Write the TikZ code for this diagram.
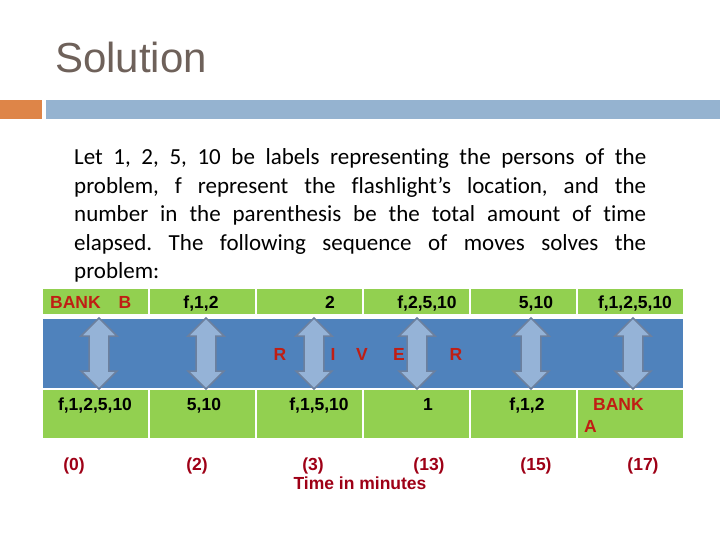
\documentclass[tikz,border=0pt]{standalone}
\usepackage{fontspec}
\setmainfont{Liberation Sans}
\newfontfamily\bodyfont[Ligatures=NoCommon]{Carlito}
\usetikzlibrary{shapes.arrows}
\definecolor{titlegrey}{RGB}{110,97,90}
\definecolor{barorange}{RGB}{222,133,72}
\definecolor{barblue}{RGB}{149,179,208}
\definecolor{riverblue}{RGB}{79,130,188}
\definecolor{cellgreen}{RGB}{146,208,80}
\definecolor{arrowfill}{RGB}{149,179,215}
\definecolor{arrowline}{RGB}{108,128,158}
\definecolor{bankred}{RGB}{192,30,20}
\definecolor{darkred}{RGB}{158,0,22}
\begin{document}
\begin{tikzpicture}[x=1pt, y=-1pt,
topcell/.style={rectangle, fill=cellgreen, minimum width=105pt, minimum height=25pt, inner sep=0pt},
botcell/.style={rectangle, fill=cellgreen, minimum width=105pt, minimum height=48pt, inner sep=0pt},
crossarrow/.style={double arrow, draw=arrowline, fill=arrowfill, line width=1.5pt, rotate=90, minimum height=71pt, minimum width=36pt, double arrow head extend=8pt, inner xsep=0pt, inner ysep=9pt},
celltext/.style={font=\fontsize{17.5}{22}\selectfont\bfseries, inner sep=0pt, anchor=base},
banktext/.style={celltext, text=bankred},
timetext/.style={celltext, text=darkred},
]
\useasboundingbox (0,0) rectangle (720,540);
%Header
\node[anchor=base west, inner sep=0pt, font=\fontsize{42}{48}\selectfont, text=titlegrey] (title) at (55,73) {Solution};
\fill[barorange] (0,100) rectangle (42,119);
\fill[barblue] (46,100) rectangle (720,119);
\node[anchor=base west, inner sep=0pt, text width=572pt, align=justify, font=\bodyfont\fontsize{23}{28.5}\selectfont] (intro) at (74,165)
  {\tolerance=10000\frenchspacing Let 1, 2, 5, 10 be labels representing the persons of the\linebreak
  problem, f represent the flashlight’s location, and the\linebreak
  number in the parenthesis be the total amount of time\linebreak
  elapsed. The following sequence of moves solves the\linebreak
  problem:};
%River
\node[rectangle, fill=riverblue, minimum width=640pt, minimum height=69pt, inner sep=0pt] (river) at (363,353.5) {};
%Cells
\node[topcell] at (95.5,301.5) (t1) {};
\node[topcell] at (202.5,301.5) (t2) {};
\node[topcell] at (309.5,301.5) (t3) {};
\node[topcell] at (416.5,301.5) (t4) {};
\node[topcell] at (523.5,301.5) (t5) {};
\node[topcell] at (630.5,301.5) (t6) {};
\node[botcell] at (95.5,414) (b1) {};
\node[botcell] at (202.5,414) (b2) {};
\node[botcell] at (309.5,414) (b3) {};
\node[botcell] at (416.5,414) (b4) {};
\node[botcell] at (523.5,414) (b5) {};
\node[botcell] at (630.5,414) (b6) {};
%Arrows
\node[crossarrow] at (99,353.5) (a1) {};
\node[crossarrow] at (206,353.5) (a2) {};
\node[crossarrow] at (314,353.5) (a3) {};
\node[crossarrow] at (417,353.5) (a4) {};
\node[crossarrow] at (531,353.5) (a5) {};
\node[crossarrow] at (633,353.5) (a6) {};
%Top bank
\node[banktext, anchor=base west] at (50,308) (bankb) {BANK\hspace{18pt}B};
\node[celltext] at (201,308) (t2txt) {f,1,2};
\node[celltext] at (330,308) (t3txt) {2};
\node[celltext] at (427,308) (t4txt) {f,2,5,10};
\node[celltext] at (536,308) (t5txt) {5,10};
\node[celltext] at (635,308) (t6txt) {f,1,2,5,10};
%River letters
\node[banktext] at (280,360) (r1) {R};
\node[banktext] at (333,360) (r2) {I};
\node[banktext] at (362,360) (r3) {V};
\node[banktext] at (399,360) (r4) {E};
\node[banktext] at (456,360) (r5) {R};
%Bottom bank
\node[celltext] at (95,410) (b1txt) {f,1,2,5,10};
\node[celltext] at (204,410) (b2txt) {5,10};
\node[celltext] at (319,410) (b3txt) {f,1,5,10};
\node[celltext] at (428,410) (b4txt) {1};
\node[celltext] at (527,410) (b5txt) {f,1,2};
\node[banktext, anchor=base west, text width=70pt, align=left] at (584,410) (banka) {\hspace*{9pt}BANK\\A};
%Times
\node[timetext] at (74,470) (time0) {(0)};
\node[timetext] at (197,470) (time2) {(2)};
\node[timetext] at (313,470) (time3) {(3)};
\node[timetext] at (429,470) (time13) {(13)};
\node[timetext] at (536,470) (time15) {(15)};
\node[timetext] at (643,470) (time17) {(17)};
\node[timetext] at (360,489) (timecap) {Time in minutes};
\end{tikzpicture}
\end{document}
